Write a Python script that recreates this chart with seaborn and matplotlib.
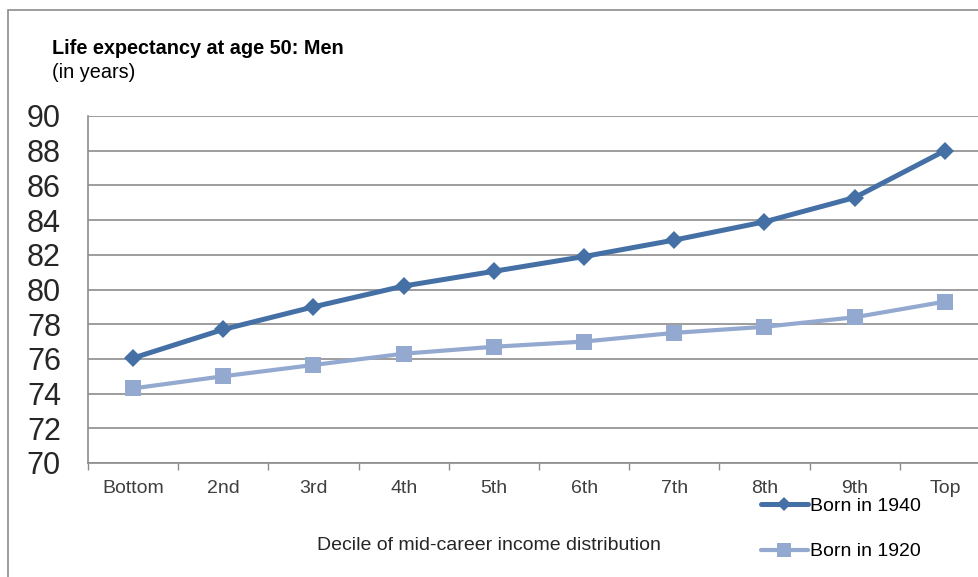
import matplotlib
matplotlib.use("Agg")
import matplotlib.pyplot as plt
import seaborn as sns
import pandas as pd
from matplotlib.patches import Rectangle
from matplotlib.ticker import FixedLocator
from matplotlib.lines import Line2D

categories = ["Bottom", "2nd", "3rd", "4th", "5th", "6th", "7th", "8th", "9th", "Top"]
born_1940 = [76.05, 77.7, 79.0, 80.2, 81.05, 81.9, 82.85, 83.9, 85.3, 88.0]
born_1920 = [74.3, 75.0, 75.65, 76.3, 76.7, 77.0, 77.5, 77.85, 78.4, 79.3]
series_names = ["Born in 1940", "Born in 1920"]
yticks = [70, 72, 74, 76, 78, 80, 82, 84, 86, 88, 90]

sns.set_theme(style="white")
plt.rcParams['font.family'] = ['Liberation Sans', 'DejaVu Sans']

df = pd.DataFrame({
    "pos": list(range(len(categories))) * 2,
    "value": born_1940 + born_1920,
    "series": [series_names[0]] * len(categories) + [series_names[1]] * len(categories),
})

W, H = 979, 577
fig = plt.figure(figsize=(W / 100, H / 100), dpi=100)
ax = fig.add_axes([88 / W, 1 - 463 / H, (990 - 88) / W, (463 - 116) / H])

palette = {series_names[0]: "#4470A6", series_names[1]: "#93A9CF"}
markers = {series_names[0]: "D", series_names[1]: "s"}
sns.lineplot(data=df, x="pos", y="value", hue="series", style="series",
             palette=palette, markers=markers, dashes=False, ax=ax,
             markersize=10, markeredgewidth=0, legend=False)
for line, lw, ms in zip(ax.lines, [3.6, 3.0], [9.0, 11.5]):
    line.set_linewidth(lw)
    line.set_markersize(ms)
    line.set_clip_on(False)

ax.set_xlim(-0.5, len(categories) - 0.5)
ax.set_ylim(70, 90)
ax.set_yticks(yticks)
ax.set_yticklabels([str(t) for t in yticks], fontsize=22, color="#262626")
ax.set_xticks(range(len(categories)))
ax.set_xticklabels(categories, fontsize=14, color="#404040")
ax.xaxis.set_minor_locator(FixedLocator([i - 0.5 for i in range(len(categories) + 1)]))
ax.tick_params(axis="x", which="major", length=0, pad=12)
ax.tick_params(axis="x", which="minor", length=5, width=1, color="#8c8c8c", direction="out", bottom=True)
ax.tick_params(axis="y", which="major", length=0, pad=19.5)
ax.grid(axis="y", color="#8c8c8c", linewidth=1.2)
ax.set_axisbelow(True)
for s in ["top", "right"]:
    ax.spines[s].set_visible(False)
for s in ["left", "bottom"]:
    ax.spines[s].set_color("#8c8c8c")
    ax.spines[s].set_linewidth(1.2)
ax.set_xlabel("")
ax.set_ylabel("")

fig.text(52 / W, 1 - 48 / H, "Life expectancy at age 50: Men", fontsize=14.3,
         fontweight="bold", color="black", va="center", ha="left")
fig.text(52 / W, 1 - 72 / H, "(in years)", fontsize=14.3, color="black", va="center", ha="left")
fig.text(489 / W, 1 - 546 / H, "Decile of mid-career income distribution", fontsize=14,
         color="#262626", va="center", ha="center")

handles = [Line2D([], [], color=palette[series_names[0]], lw=3.6, marker="D", ms=7, mew=0),
           Line2D([], [], color=palette[series_names[1]], lw=3.0, marker="s", ms=10, mew=0)]
leg = fig.legend(handles, series_names, loc="upper left", bbox_to_anchor=(761 / W, 1 - 497 / H),
                 frameon=False, fontsize=14, handlelength=2.4, handletextpad=0.1,
                 labelspacing=1.45, borderpad=0, borderaxespad=0)
for t in leg.get_texts():
    t.set_color("black")

fig.patches.append(Rectangle((8.5 / W, -0.1), 1.2, 1 - 10 / H + 0.1, transform=fig.transFigure,
                             fill=False, edgecolor="#8c8c8c", linewidth=1.2))

fig.savefig("out.png", dpi=100)
